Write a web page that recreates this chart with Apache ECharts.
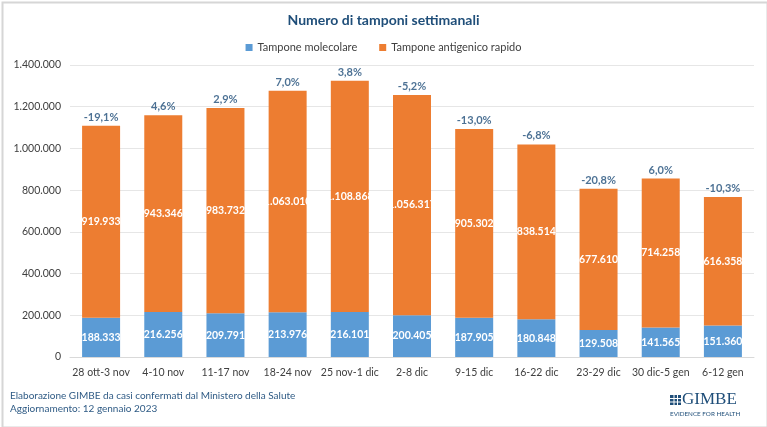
<!DOCTYPE html>
<html>
<head>
<meta charset="utf-8">
<script src="https://cdn.jsdelivr.net/npm/echarts@6/dist/echarts.min.js"></script>
<style>
  html, body { margin: 0; padding: 0; background: #fff; }
  #chart { width: 767px; height: 427px; }
</style>
</head>
<body>
<div id="chart"></div>
<script>
const categories = [
    "28 ott-3 nov", "4-10 nov", "11-17 nov", "18-24 nov", "25 nov-1 dic", "2-8 dic",
    "9-15 dic", "16-22 dic", "23-29 dic", "30 dic-5 gen", "6-12 gen",
];
const molecolare = [188333, 216256, 209791, 213976, 216101, 200405, 187905, 180848, 129508, 141565, 151360];
const antigenico = [919933, 943346, 983732, 1063010, 1108868, 1056317, 905302, 838514, 677610, 714258, 616358];
const variazione = ["-19,1%", "4,6%", "2,9%", "7,0%", "3,8%", "-5,2%", "-13,0%", "-6,8%", "-20,8%", "6,0%", "-10,3%"];
const yTicks = [0, 200000, 400000, 600000, 800000, 1000000, 1200000, 1400000];

const totals = molecolare.map((v, i) => v + antigenico[i]);

// italian thousands separator
const fmt = (v) => String(v).replace(/\B(?=(\d{3})+(?!\d))/g, ".");

const FONT = "Lato";
const NAVY = "#1F4E79";

const chart = echarts.init(document.getElementById("chart"));

chart.setOption({
    animation: false,
    backgroundColor: "#fff",
    textStyle: { fontFamily: FONT },
    title: {
        text: "Numero di tamponi settimanali",
        left: "center",
        top: 8,
        textStyle: { color: NAVY, fontSize: 14, fontWeight: "bold", fontFamily: FONT },
    },
    legend: {
        data: ["Tampone molecolare", "Tampone antigenico rapido"],
        top: 37,
        left: "center",
        icon: "rect",
        itemWidth: 7,
        itemHeight: 7,
        itemGap: 22,
        textStyle: { color: "#404040", fontSize: 11, fontFamily: FONT },
    },
    grid: { top: 65, bottom: 70, left: 70, right: 13 },
    xAxis: {
        type: "category",
        data: categories,
        axisLine: { lineStyle: { color: "#D9D9D9" } },
        axisTick: { show: false },
        axisLabel: { interval: 0, color: "#404040", fontSize: 10.5, margin: 10 },
    },
    yAxis: {
        type: "value",
        min: yTicks[0],
        max: yTicks[yTicks.length - 1],
        interval: yTicks[1] - yTicks[0],
        axisLine: { show: false },
        axisTick: { show: false },
        axisLabel: { color: "#404040", fontSize: 10.5, margin: 9, formatter: (v) => fmt(v) },
        splitLine: { lineStyle: { color: "#E6E6E6" } },
    },
    series: [
        {
            name: "Tampone molecolare",
            type: "bar",
            stack: "tot",
            data: molecolare,
            barWidth: 38,
            itemStyle: { color: "#5B9BD5" },
            label: {
                show: true,
                position: "inside",
                color: "#fff",
                fontWeight: "bold",
                fontSize: 10.5,
                formatter: (p) => fmt(p.value),
            },
        },
        {
            name: "Tampone antigenico rapido",
            type: "bar",
            stack: "tot",
            data: antigenico,
            barWidth: 38,
            itemStyle: { color: "#ED7D31" },
            label: {
                show: true,
                position: "inside",
                color: "#fff",
                fontWeight: "bold",
                fontSize: 10.5,
                formatter: (p) => fmt(p.value),
            },
        },
        {
            name: "variazione",
            type: "scatter",
            data: totals,
            symbolSize: 0,
            silent: true,
            label: {
                show: true,
                position: "top",
                distance: 3,
                color: NAVY,
                fontWeight: "bold",
                fontSize: 11,
                formatter: (p) => variazione[p.dataIndex],
            },
        },
    ],
    graphic: [
        {
            type: "rect",
            left: 0,
            top: 0,
            shape: { x: 0.5, y: 0.5, width: 765, height: 425 },
            style: { fill: "none", stroke: "#D6D6D6", lineWidth: 2 },
            silent: true,
        },
        {
            type: "text",
            left: 10,
            top: 389,
            style: {
                text: "Elaborazione GIMBE da casi confermati dal Ministero della Salute\nAggiornamento: 12 gennaio 2023",
                fill: "#2F5B85",
                font: "10px " + FONT,
                lineHeight: 13.5,
            },
        },
        {
            type: "group",
            left: 670,
            top: 391,
            children: [
                { type: "rect", shape: { x: 0, y: 2, width: 11, height: 10 }, style: { fill: NAVY } },
                { type: "rect", shape: { x: 3.5, y: 2, width: 1, height: 10 }, style: { fill: "#fff" } },
                { type: "rect", shape: { x: 7, y: 2, width: 1, height: 10 }, style: { fill: "#fff" } },
                { type: "rect", shape: { x: 0, y: 5, width: 11, height: 1 }, style: { fill: "#fff" } },
                { type: "rect", shape: { x: 0, y: 8.5, width: 11, height: 1 }, style: { fill: "#fff" } },
                {
                    type: "text",
                    x: 12,
                    y: -2,
                    style: { text: "GIMBE", fill: NAVY, font: "17px 'Liberation Serif'" },
                },
                {
                    type: "text",
                    x: 0,
                    y: 18,
                    style: { text: "EVIDENCE FOR HEALTH", fill: NAVY, font: "6.3px " + FONT },
                },
            ],
        },
    ],
});
</script>
</body>
</html>
